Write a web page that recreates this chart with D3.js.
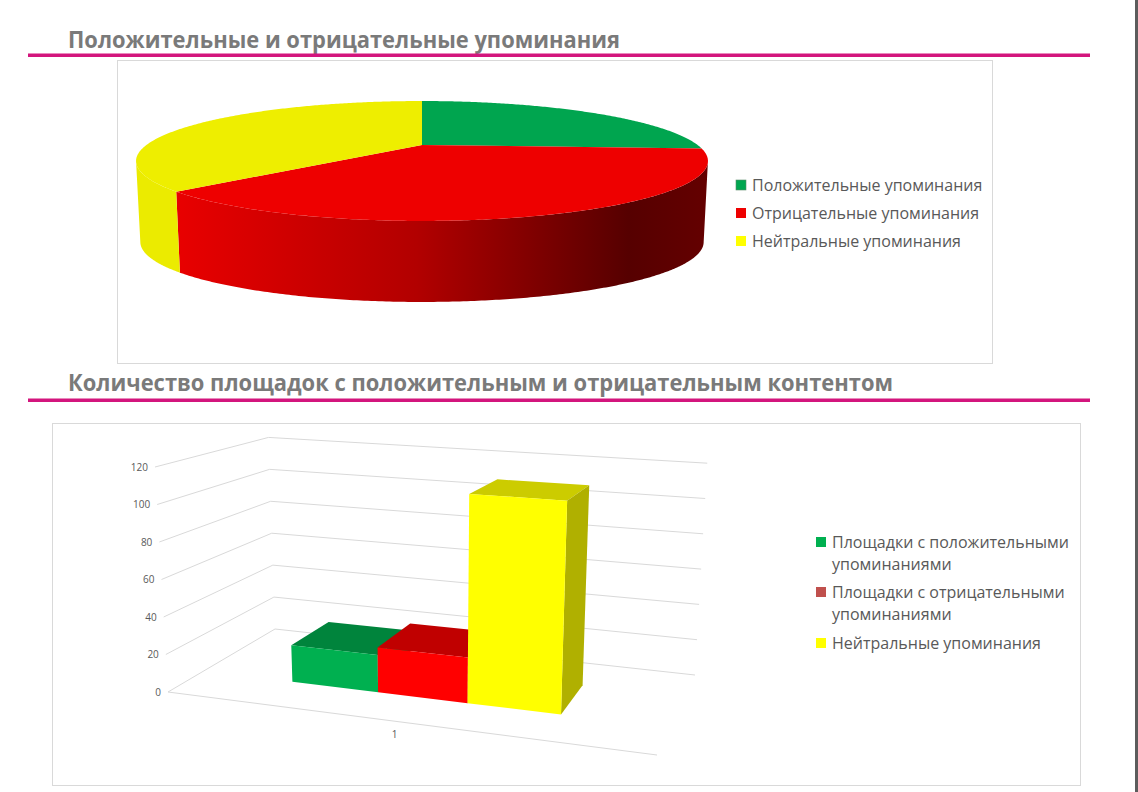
<!DOCTYPE html>
<html><head><meta charset="utf-8">
<script src="https://cdn.jsdelivr.net/npm/d3@7"></script>
<style>body{margin:0;background:#fff;overflow:hidden} svg{display:block}</style>
</head><body>
<svg id="c" width="1138" height="792"></svg>
<script>
// ---------- data ----------
const pieTitle = "Положительные и отрицательные упоминания";
const barTitle = "Количество площадок с положительным и отрицательным контентом";
const pieCategories = ["Положительные упоминания", "Отрицательные упоминания", "Нейтральные упоминания"];
const pieValues = [26, 37, 37];
const barSeries = ["Площадки с положительными упоминаниями", "Площадки с отрицательными упоминаниями", "Нейтральные упоминания"];
const barValues = [20, 24, 110];
const barCategories = ["1"];
const yTicks = [0, 20, 40, 60, 80, 100, 120];

// ---------- styles ----------
const pieTopColors = ["#00a54f", "#ee0000", "#eeee00"];
const pieLegendColors = ["#00a650", "#ee0000", "#ffff00"];
const barFront = ["#00b050", "#ff0000", "#ffff00"];
const barTop = ["#00843c", "#c00000", "#cccc00"];
const barSide = ["#006f33", "#a00000", "#b0b000"];
const barLegendColors = ["#00b050", "#c0504d", "#ffff00"];
const FONT = "'Open Sans', 'Noto Sans', sans-serif";

const svg = d3.select("#c");
const defs = svg.append("defs");

// right dark edge
svg.append("rect").attr("x", 1135).attr("y", 0).attr("width", 3).attr("height", 792).attr("fill", "#5c5c5c");

// titles + pink rules
function title(txt, y, len, lineY) {
  svg.append("text").attr("x", 68).attr("y", y).text(txt)
    .attr("font-family", FONT).attr("font-weight", 700).attr("font-size", 23)
    .attr("fill", "#7a7a7a").attr("textLength", len).attr("lengthAdjust", "spacingAndGlyphs");
  svg.append("rect").attr("x", 28).attr("y", lineY).attr("width", 1062).attr("height", 3.5).attr("fill", "#d3157d");
}
title(pieTitle, 48, 552, 53.5);
title(barTitle, 391, 825, 398.5);

// frames
svg.append("rect").attr("x", 117.5).attr("y", 60.5).attr("width", 875).attr("height", 303)
  .attr("fill", "none").attr("stroke", "#d9d9d9");
svg.append("rect").attr("x", 52.5).attr("y", 423.5).attr("width", 1028).attr("height", 362)
  .attr("fill", "none").attr("stroke", "#d9d9d9");

// ---------- 3D pie ----------
const P = {cx: 422, cy: 145, A: 275.6, B: 55.7, p: 0.2667, depth: 81, shrink: 0.985};
function pieTopPt(t) {
  const X = Math.sin(t), Y = Math.cos(t), w = 1 + P.p * Y;
  return [P.cx + P.A * X / w, P.cy - P.B * Y / w];
}
function pieBotPt(t) {
  const q = pieTopPt(t);
  return [P.cx + (q[0] - P.cx) * P.shrink, q[1] + P.depth];
}
const arcs = d3.pie().sort(null).value(d => d)(pieValues);
const thR = Math.acos(-P.p), thL = 2 * Math.PI - thR;
const line = d3.line();
function samples(a0, a1) {
  const n = Math.max(2, Math.ceil((a1 - a0) / 0.01));
  return d3.range(n + 1).map(i => a0 + (a1 - a0) * i / n);
}
const grad = defs.append("linearGradient").attr("id", "redSide")
  .attr("gradientUnits", "userSpaceOnUse").attr("x1", 178).attr("x2", 708).attr("y1", 0).attr("y2", 0);
[[0, "#e80000"], [0.45, "#b20000"], [0.85, "#560000"], [1, "#640000"]].forEach(s =>
  grad.append("stop").attr("offset", s[0]).attr("stop-color", s[1]));
const sideFill = ["#008a40", "url(#redSide)", "#ebeb00"];
const pieG = svg.append("g");
arcs.forEach((a, i) => {
  const s0 = Math.max(a.startAngle, thR), s1 = Math.min(a.endAngle, thL);
  if (s1 > s0) {
    const ts = samples(s0, s1);
    const pts = ts.map(pieTopPt).concat(ts.slice().reverse().map(pieBotPt));
    pieG.append("path").attr("d", line(pts) + "Z").attr("fill", sideFill[i]);
  }
});
arcs.forEach((a, i) => {
  const pts = [[P.cx, P.cy]].concat(samples(a.startAngle, a.endAngle).map(pieTopPt));
  pieG.append("path").attr("d", line(pts) + "Z").attr("fill", pieTopColors[i]);
});

// pie legend
const pl = svg.append("g").attr("font-family", FONT).attr("font-size", 16).attr("fill", "#595959");
pieCategories.forEach((c, i) => {
  const y = 185 + i * 28;
  pl.append("rect").attr("x", 736).attr("y", y - 5).attr("width", 10).attr("height", 10)
    .attr("fill", pieLegendColors[i]).attr("stroke", i === 0 ? "#5a8a6a" : "none").attr("stroke-width", 0.6);
  pl.append("text").attr("x", 752).attr("y", y + 5.5).text(c);
});

// ---------- 3D column chart ----------
const F = {x0: 168, y0: 692, x1: 657, y1: 755, x2: 695, y2: 675, x3: 275, y3: 629, vpx: 431, vpy: 5248};
const sx = F.x0 - F.x1 + F.x2 - F.x3, sy = F.y0 - F.y1 + F.y2 - F.y3;
const dx1 = F.x1 - F.x2, dx2 = F.x3 - F.x2, dy1 = F.y1 - F.y2, dy2 = F.y3 - F.y2;
const det = dx1 * dy2 - dx2 * dy1;
const hg = (sx * dy2 - dx2 * sy) / det, hh = (dx1 * sy - sx * dy1) / det;
const ha = F.x1 - F.x0 + hg * F.x1, hb = F.x3 - F.x0 + hh * F.x3;
const hd = F.y1 - F.y0 + hg * F.y1, he = F.y3 - F.y0 + hh * F.y3;
const yScale = d3.scaleLinear().domain([0, 120]).range([0, 225]);
function proj(u, v, val) {
  const w = hg * u + hh * v + 1;
  const x = (ha * u + hb * v + F.x0) / w, y = (hd * u + he * v + F.y0) / w;
  const dy = yScale(val) / w;
  const dx = (x - F.vpx) * dy / (F.vpy - y);
  return [x + dx, y - dy];
}
const uBand = d3.scaleBand().domain(barSeries).range([0.208, 0.786]).paddingInner(0);
const v0 = 0.30, v1 = 0.69;
const bg = svg.append("g");
yTicks.forEach(t => {
  bg.append("path").attr("d", line([proj(0, 0, t), proj(0, 1, t), proj(1, 1, t)]))
    .attr("fill", "none").attr("stroke", "#d9d9d9").attr("stroke-width", 1);
  const q = proj(0, 0, t);
  bg.append("text").attr("x", q[0] - 7).attr("y", q[1]).attr("dy", "0.35em").attr("text-anchor", "end")
    .attr("font-family", FONT).attr("font-size", 10).attr("fill", "#595959").text(t);
});
bg.append("path").attr("d", line([proj(0, 0, 0), proj(1, 0, 0)]))
  .attr("fill", "none").attr("stroke", "#d9d9d9").attr("stroke-width", 1);
const cq = proj(uBand(barSeries[1]) + uBand.bandwidth() / 2, 0, 0);
bg.append("text").attr("x", cq[0] - 2).attr("y", cq[1] + 17).attr("text-anchor", "middle")
  .attr("font-family", FONT).attr("font-size", 10).attr("fill", "#595959").text(barCategories[0]);

barSeries.forEach((s, i) => {
  const u0 = uBand(s), u1 = u0 + uBand.bandwidth(), val = barValues[i];
  const poly = pts => line(pts) + "Z";
  bg.append("path").attr("d", poly([proj(u0, v0, val), proj(u1, v0, val), proj(u1, v1, val), proj(u0, v1, val)]))
    .attr("fill", barTop[i]);
  bg.append("path").attr("d", poly([proj(u1, v0, 0), proj(u1, v1, 0), proj(u1, v1, val), proj(u1, v0, val)]))
    .attr("fill", barSide[i]);
  bg.append("path").attr("d", poly([proj(u0, v0, 0), proj(u1, v0, 0), proj(u1, v0, val), proj(u0, v0, val)]))
    .attr("fill", barFront[i]);
});

// bar legend with wrapping
const bl = svg.append("g").attr("font-family", FONT).attr("font-size", 16).attr("fill", "#595959");
const rowY = [542, 592, 643];
barSeries.forEach((s, i) => {
  const y = rowY[i];
  bl.append("rect").attr("x", 816).attr("y", y - 5).attr("width", 10).attr("height", 10).attr("fill", barLegendColors[i]);
  const t = bl.append("text").attr("x", 832).attr("y", y + 5.5);
  const words = s.split(" ");
  let lineWords = [], lines = [];
  const tmp = t.append("tspan");
  words.forEach(wd => {
    const trial = lineWords.concat([wd]).join(" ");
    tmp.text(trial);
    if (tmp.node().getComputedTextLength() > 245 && lineWords.length) {
      lines.push(lineWords.join(" ")); lineWords = [wd];
    } else lineWords.push(wd);
  });
  lines.push(lineWords.join(" "));
  tmp.remove();
  lines.forEach((ln, j) => t.append("tspan").attr("x", 832).attr("dy", j ? 22 : 0).text(ln));
});
</script>
</body></html>
